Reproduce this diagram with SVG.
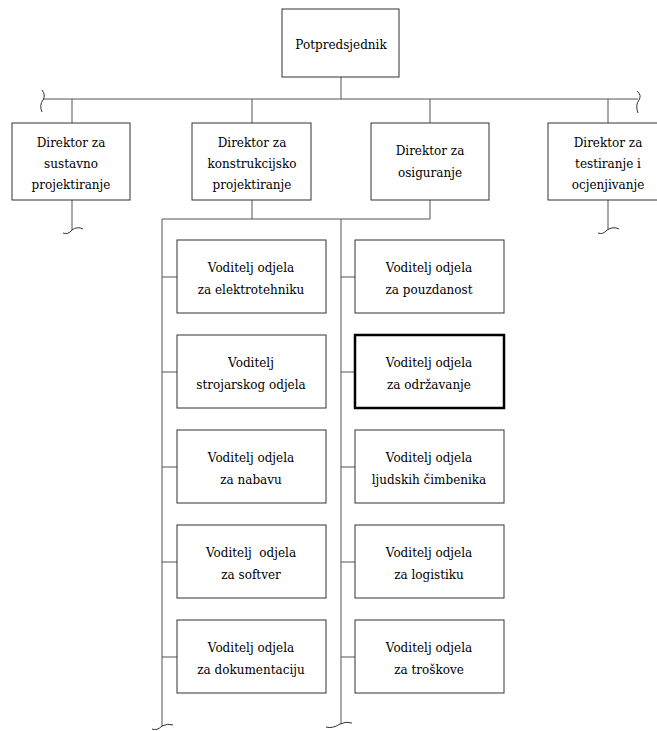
<svg xmlns="http://www.w3.org/2000/svg" width="657" height="731" viewBox="0 0 657 731">
<style>
.box{fill:#fff;stroke:#333;stroke-width:1}
.thick{fill:#fff;stroke:#000;stroke-width:2.5}
.ln{fill:none;stroke:#555;stroke-width:1}
.sq{fill:none;stroke:#333;stroke-width:1}
text{font-family:"DejaVu Serif",serif;font-size:12px;fill:#000;text-anchor:middle}
</style>
<rect width="657" height="731" fill="#fff"/>
<g id="connectors">
<path class="ln" d="M341,77V99M43,99H638M72,99V123M252,99V123M430,99V123M608,99V123"/>
<path class="sq" d="M42,90q4,5 1,10q-4,5 -1,12M637,91q5,4 2,9q-4,5 -1,13"/>
<path class="ln" d="M72,200V230M608,200V230"/>
<path class="sq" d="M63,233q5,2 9,-3q5,-4 11,-1M598,233q5,2 9,-3q6,-4 12,-1"/>
<path class="ln" d="M252,200V219M430,200V219M162,219H430M162,219V726M341,219V724"/>
<path class="sq" d="M152,729q5,2 10,-3q6,-3 11,-1M326,727q6,2 14,-3q6,-3 12,-1"/>
<path class="ln" d="M162,277H177M162,372H177M162,467H177M162,562H177M162,657H177M341,277H355M341,372H355M341,467H355M341,562H355M341,657H355"/>
</g>
<g id="potpredsjednik"><rect class="box" x="282" y="9" width="117" height="68"/><text x="341" y="49">Potpredsjednik</text></g>
<g id="dir-sustavno"><rect class="box" x="12" y="123" width="118" height="77"/><text x="71" y="147">Direktor za</text><text x="71" y="168">sustavno</text><text x="71" y="189">projektiranje</text></g>
<g id="dir-konstrukcijsko"><rect class="box" x="192" y="123" width="119" height="77"/><text x="252" y="147">Direktor za</text><text x="252" y="168">konstrukcijsko</text><text x="252" y="189">projektiranje</text></g>
<g id="dir-osiguranje"><rect class="box" x="371" y="123" width="118" height="77"/><text x="430" y="155">Direktor za</text><text x="430" y="177">osiguranje</text></g>
<g id="dir-testiranje"><rect class="box" x="548" y="123" width="120" height="77"/><text x="608" y="147">Direktor za</text><text x="608" y="168">testiranje i</text><text x="608" y="189">ocjenjivanje</text></g>
<g id="elektrotehnika"><rect class="box" x="177" y="240" width="149" height="73"/><text x="251" y="272">Voditelj odjela</text><text x="251" y="294">za elektrotehniku</text></g>
<g id="strojarski"><rect class="box" x="177" y="335" width="149" height="73"/><text x="251" y="367">Voditelj</text><text x="251" y="389">strojarskog odjela</text></g>
<g id="nabava"><rect class="box" x="177" y="430" width="149" height="73"/><text x="251" y="462">Voditelj odjela</text><text x="251" y="484">za nabavu</text></g>
<g id="softver"><rect class="box" x="177" y="525" width="149" height="73"/><text x="251" y="557" xml:space="preserve">Voditelj  odjela</text><text x="251" y="579">za softver</text></g>
<g id="dokumentacija"><rect class="box" x="177" y="620" width="149" height="73"/><text x="251" y="652">Voditelj odjela</text><text x="251" y="674">za dokumentaciju</text></g>
<g id="pouzdanost"><rect class="box" x="355" y="240" width="149" height="73"/><text x="429" y="272">Voditelj odjela</text><text x="429" y="294">za pouzdanost</text></g>
<g id="odrzavanje"><rect class="thick" x="355" y="335" width="149" height="73"/><text x="429" y="367">Voditelj odjela</text><text x="429" y="389">za održavanje</text></g>
<g id="ljudski"><rect class="box" x="355" y="430" width="149" height="73"/><text x="429" y="462">Voditelj odjela</text><text x="429" y="484">ljudskih čimbenika</text></g>
<g id="logistika"><rect class="box" x="355" y="525" width="149" height="73"/><text x="429" y="557">Voditelj odjela</text><text x="429" y="579">za logistiku</text></g>
<g id="troskovi"><rect class="box" x="355" y="620" width="149" height="73"/><text x="429" y="652">Voditelj odjela</text><text x="429" y="674">za troškove</text></g>
</svg>
